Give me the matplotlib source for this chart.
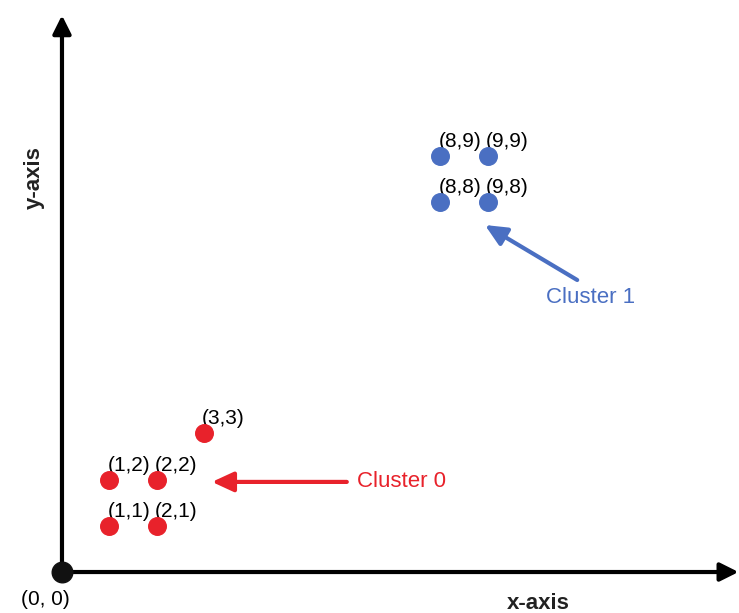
import numpy as np
import matplotlib.pyplot as plt

plt.rcParams['font.family'] = ['Liberation Sans', 'DejaVu Sans']

# cluster points
c0_x = [1, 2, 1, 2, 3]
c0_y = [1, 1, 2, 2, 3]
c1_x = [8, 9, 8, 9]
c1_y = [8, 8, 9, 9]
c0_name = "Cluster 0"
c1_name = "Cluster 1"

RED = '#e8222b'
BLUE = '#4a6fc2'

fig = plt.figure(figsize=(7.39, 6.13), dpi=100)
ax = fig.add_axes([0, 0, 1, 1])
ax.set_xlim(-1.31, 14.31)
ax.set_ylim(-0.887, 12.38)
ax.axis('off')

# axes with arrows
axis_arrow = dict(arrowstyle='-|>,head_length=1.1,head_width=0.55',
                  lw=3, color='black', shrinkA=0, shrinkB=0)
ax.annotate('', xy=(14.3, 0), xytext=(0, 0), arrowprops=axis_arrow)
ax.annotate('', xy=(0, 12.05), xytext=(0, 0), arrowprops=axis_arrow)
ax.scatter([0], [0], s=220, color='#111111', zorder=5)
ax.annotate('(0, 0)', (0, 0), xytext=(-17, -27), textcoords='offset pixels',
            ha='center', va='center', fontsize=15)
ax.text(10.06, -0.69, 'x-axis', ha='center', va='center', fontsize=16,
        fontweight='bold', color='#222222')
ax.text(-0.58, 8.53, 'y-axis', ha='center', va='center', fontsize=16,
        fontweight='bold', color='#222222', rotation=90)

ax.scatter(c0_x, c0_y, s=160, color=RED, zorder=4)
ax.scatter(c1_x, c1_y, s=160, color=BLUE, zorder=4)
for x, y in zip(c0_x + c1_x, c0_y + c1_y):
    ax.annotate(f'({x},{y})', (x, y), xytext=(-2, 5),
                textcoords='offset pixels', ha='left', va='bottom', fontsize=15)

# cluster labels
ax.annotate('', xy=(3.17, 1.95), xytext=(6.02, 1.95),
            arrowprops=dict(arrowstyle='-|>,head_length=1.3,head_width=0.6',
                            lw=3, color=RED, shrinkA=0, shrinkB=0))
ax.text(6.24, 1.95, c0_name, color=RED, ha='left', va='center', fontsize=16)
ax.annotate('', xy=(8.94, 7.51), xytext=(10.89, 6.32),
            arrowprops=dict(arrowstyle='-|>,head_length=1.3,head_width=0.6',
                            lw=3, color=BLUE, shrinkA=0, shrinkB=0))
ax.text(11.18, 5.95, c1_name, color=BLUE, ha='center', va='center', fontsize=16)

fig.savefig('out.png', dpi=100)
